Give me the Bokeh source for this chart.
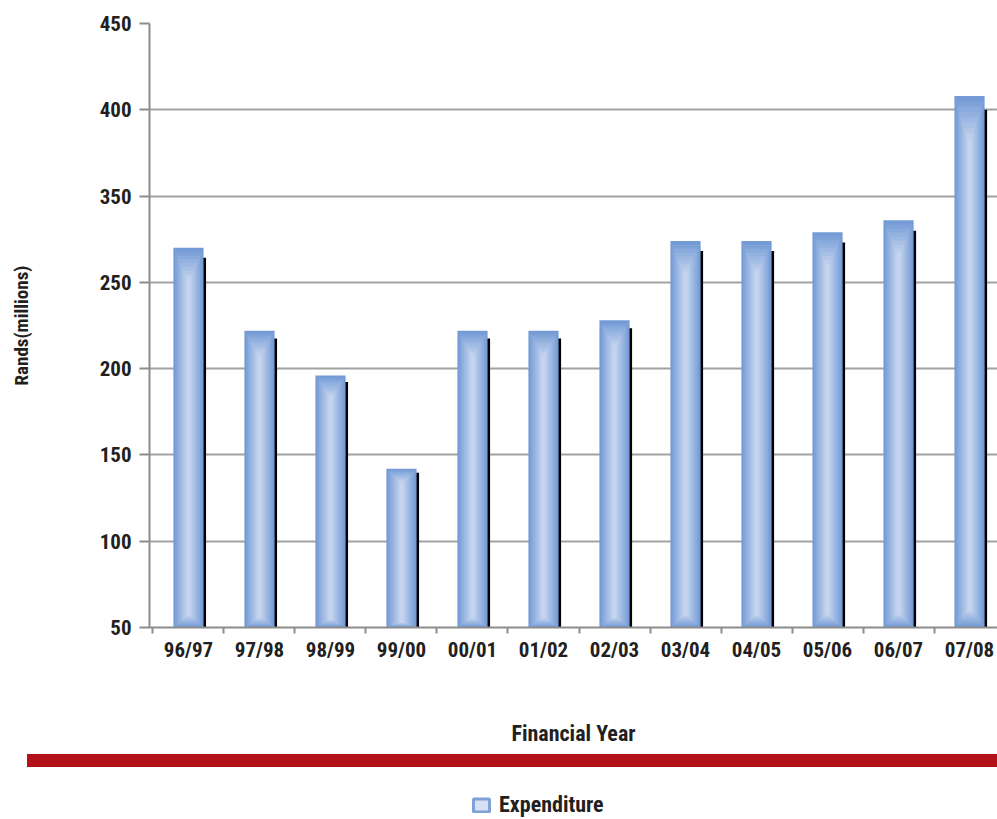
import numpy as np
from bokeh.plotting import figure
from bokeh.models import Range1d, FixedTicker, Legend, LegendItem, Div
from bokeh.layouts import column
from bokeh.embed import file_html
from bokeh.resources import INLINE

# ---- data ----
years = ["96/97", "97/98", "98/99", "99/00", "00/01", "01/02",
         "02/03", "03/04", "04/05", "05/06", "06/07", "07/08"]
expenditure = [270, 222, 196, 142, 222, 222, 228, 274, 274, 279, 286, 358]
y_tick_values = [50, 100, 150, 200, 250, 300, 350, 400]
y_tick_labels = ["50", "100", "150", "200", "250", "350", "400", "450"]

FONT = "Roboto Condensed"
TXT = "#231f20"
base = 50

xs = np.arange(len(years)) + 0.5
vals = np.array(expenditure, dtype=float)
heights = vals - base

p = figure(width=997, height=754, x_range=Range1d(-0.049, 11.894), y_range=Range1d(50, 400),
           output_backend="svg", toolbar_location=None,
           min_border_left=149, min_border_right=0, min_border_top=23, min_border_bottom=127)
p.outline_line_color = None
p.xgrid.grid_line_color = None
p.ygrid.grid_line_color = "#a2a2a2"
p.ygrid.grid_line_width = 2

# shadow
p.vbar(x=xs + 0.035, top=base + heights * 0.974, bottom=base, width=0.425,
       fill_color="black", line_color=None)

# gradient bar layers
n = 9
edge = np.array([0x74, 0x9b, 0xd5])
center = np.array([0xc6, 0xd5, 0xef])
for i in range(n):
    t = i / (n - 1)
    c = edge + (center - edge) * t
    col = "#%02x%02x%02x" % tuple(int(round(v)) for v in c)
    w = 0.425 * (1 - 0.88 * t)
    p.vbar(x=xs, top=vals - heights * 0.010 * i, bottom=base + heights * 0.004 * i,
           width=w, fill_color=col, line_color=None)

# y axis
ya = p.yaxis[0]
ya.ticker = FixedTicker(ticks=y_tick_values)
ya.major_label_overrides = {v: l for v, l in zip(y_tick_values, y_tick_labels)}
ya.axis_line_color = "#8c8c8c"
ya.axis_line_width = 2
ya.major_tick_line_color = "#8c8c8c"
ya.major_tick_line_width = 2
ya.major_tick_out = 10
ya.major_tick_in = 0
ya.minor_tick_line_color = None
ya.major_label_text_font = FONT
ya.major_label_text_font_style = "bold"
ya.major_label_text_font_size = "21px"
ya.major_label_text_color = TXT
ya.major_label_standoff = 8
ya.axis_label = "Rands(millions)"
ya.axis_label_text_font = FONT
ya.axis_label_text_font_style = "bold"
ya.axis_label_text_font_size = "19px"
ya.axis_label_text_color = TXT
ya.axis_label_standoff = 64

# x axis
xa = p.xaxis[0]
xa.ticker = FixedTicker(ticks=list(xs), minor_ticks=list(range(0, 13)))
xa.major_label_overrides = {float(x): y for x, y in zip(xs, years)}
xa.axis_line_color = "#8c8c8c"
xa.axis_line_width = 2
xa.major_tick_line_color = None
xa.major_tick_out = 0
xa.major_tick_in = 0
xa.minor_tick_line_color = "#8c8c8c"
xa.minor_tick_line_width = 2
xa.minor_tick_out = 6
xa.minor_tick_in = 0
xa.major_label_text_font = FONT
xa.major_label_text_font_style = "bold"
xa.major_label_text_font_size = "21px"
xa.major_label_text_color = TXT
xa.major_label_standoff = 4
xa.axis_label = "Financial Year"
xa.axis_label_text_font = FONT
xa.axis_label_text_font_style = "bold"
xa.axis_label_text_font_size = "22px"
xa.axis_label_text_color = TXT
xa.axis_label_standoff = 56

# red band
band = Div(text="", width=970, height=13, margin=(0, 0, 0, 27),
           styles={"background-color": "#b3111a"})

# legend figure (renderer hidden under the legend's own white box)
lf = figure(width=997, height=52, output_backend="svg", toolbar_location=None,
            min_border_left=149, min_border_right=0, min_border_top=0, min_border_bottom=0,
            x_range=Range1d(0, 848), y_range=Range1d(0, 52))
lf.axis.visible = False
lf.grid.visible = False
lf.outline_line_color = None
r = lf.vbar(x=[400], top=[14], bottom=[10], width=6,
            fill_color="#d6e1f4", line_color="#7ea2d8", line_width=3)
leg = Legend(items=[LegendItem(label="Expenditure", renderers=[r])], location=(322, 2),
             padding=0, margin=0, border_line_color=None,
             background_fill_color="white", background_fill_alpha=1,
             glyph_width=20, glyph_height=16, label_height=20, label_standoff=8,
             label_text_font=FONT, label_text_font_style="bold", label_text_font_size="22px",
             label_text_color=TXT)
lf.add_layout(leg, "center")

layout = column(p, band, lf, spacing=0)
open("out.html", "w").write(file_html(layout, INLINE))
